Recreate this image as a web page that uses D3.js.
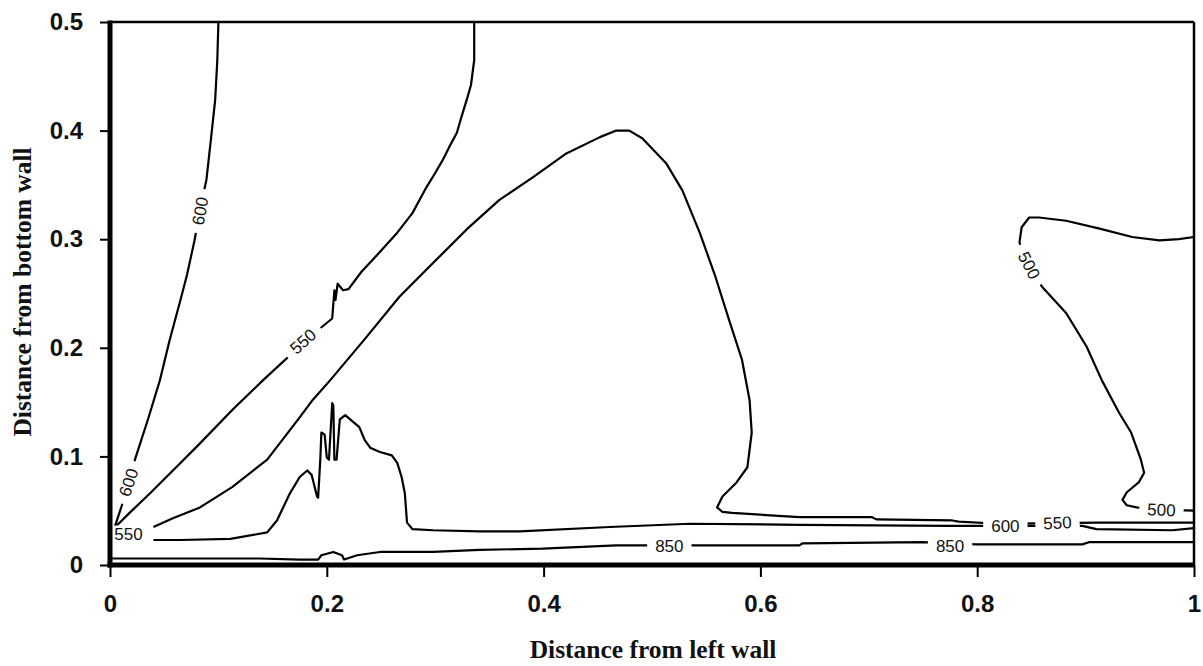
<!DOCTYPE html>
<html>
<head>
<meta charset="utf-8">
<script src="https://cdn.jsdelivr.net/npm/d3@7"></script>
<style>
  html, body { margin: 0; padding: 0; background: #fff; }
  svg { display: block; }
</style>
</head>
<body>
<svg id="chart" width="1203" height="666"></svg>
<script>
// Axis ticks
const xTicks = [0, 0.2, 0.4, 0.6, 0.8, 1];
const xTickLabels = ["0", "0.2", "0.4", "0.6", "0.8", "1"];
const yTicks = [0, 0.1, 0.2, 0.3, 0.4, 0.5];
const yTickLabels = ["0", "0.1", "0.2", "0.3", "0.4", "0.5"];

// Isotherm paths: [distance from left wall, distance from bottom wall]
const iso600Left = [[0.100,0.500],[0.099,0.465],[0.097,0.428],[0.093,0.391],[0.089,0.355],[0.083,0.327],
  [0.078,0.299],[0.071,0.267],[0.065,0.244],[0.055,0.207],[0.046,0.170],[0.035,0.134],[0.023,0.097],
  [0.017,0.076],[0.011,0.055],[0.005,0.037],[0.001,0.031]];

const iso550Upper = [[0.336,0.500],[0.336,0.465],[0.333,0.442],[0.329,0.428],[0.324,0.412],[0.320,0.398],
  [0.313,0.385],[0.307,0.373],[0.300,0.361],[0.292,0.348],[0.279,0.324],[0.265,0.306],[0.246,0.285],
  [0.232,0.270],[0.220,0.254],[0.215,0.253],[0.210,0.259],[0.208,0.244],[0.207,0.253],[0.205,0.227],
  [0.194,0.218],[0.166,0.193],[0.141,0.170],[0.113,0.143],[0.083,0.112],[0.065,0.094],[0.037,0.066],
  [0.018,0.048],[0.007,0.037],[0.001,0.031]];

const iso550Lower = [[0.040,0.035],[0.058,0.043],[0.083,0.053],[0.113,0.072],[0.145,0.097],[0.175,0.136],
  [0.187,0.152],[0.203,0.170],[0.235,0.208],[0.267,0.247],[0.298,0.278],[0.329,0.309],[0.359,0.336],
  [0.390,0.357],[0.421,0.379],[0.452,0.394],[0.467,0.400],[0.479,0.400],[0.491,0.393],[0.513,0.370],
  [0.528,0.345],[0.544,0.306],[0.558,0.267],[0.571,0.226],[0.583,0.189],[0.590,0.152],[0.592,0.122],
  [0.588,0.090],[0.578,0.076],[0.565,0.063],[0.560,0.053],[0.565,0.049],[0.574,0.048],[0.636,0.044],
  [0.703,0.044],[0.707,0.042],[0.777,0.041],[0.783,0.040],[0.820,0.038],[0.910,0.039],[1.000,0.039]];

const iso600Lower = [[0.040,0.023],[0.065,0.023],[0.111,0.024],[0.145,0.030],[0.154,0.041],[0.166,0.066],
  [0.175,0.081],[0.182,0.087],[0.186,0.083],[0.191,0.063],[0.192,0.062],[0.194,0.097],[0.195,0.122],
  [0.198,0.120],[0.200,0.099],[0.202,0.097],[0.205,0.149],[0.206,0.147],[0.207,0.097],[0.209,0.097],
  [0.212,0.134],[0.217,0.138],[0.224,0.132],[0.230,0.127],[0.235,0.115],[0.240,0.108],[0.249,0.104],
  [0.260,0.101],[0.265,0.094],[0.269,0.081],[0.272,0.066],[0.274,0.039],[0.279,0.033],[0.298,0.032],
  [0.341,0.031],[0.378,0.031],[0.461,0.035],[0.535,0.038],[0.636,0.037],[0.774,0.036],[0.897,0.036],
  [0.910,0.033],[0.980,0.032],[1.000,0.034]];

const iso850 = [[0.000,0.006],[0.037,0.006],[0.083,0.006],[0.138,0.006],[0.175,0.005],[0.192,0.005],
  [0.195,0.009],[0.206,0.012],[0.214,0.009],[0.216,0.005],[0.228,0.009],[0.249,0.012],[0.298,0.012],
  [0.341,0.014],[0.399,0.015],[0.467,0.018],[0.495,0.018],[0.537,0.018],[0.636,0.018],[0.639,0.020],
  [0.749,0.021],[0.799,0.019],[0.897,0.019],[0.903,0.021],[1.000,0.021]];

const iso500 = [[1.000,0.302],[0.986,0.300],[0.968,0.299],[0.943,0.302],[0.912,0.310],[0.882,0.317],
  [0.857,0.320],[0.848,0.320],[0.841,0.311],[0.839,0.297],[0.846,0.278],[0.860,0.256],[0.882,0.232],
  [0.901,0.201],[0.915,0.170],[0.931,0.140],[0.942,0.122],[0.951,0.097],[0.954,0.085],[0.949,0.076],
  [0.938,0.067],[0.934,0.060],[0.938,0.055],[0.947,0.053],[0.968,0.051],[1.000,0.050]];

const isotherms = [
  { level: 600, points: iso600Left },
  { level: 550, points: iso550Upper },
  { level: 550, points: iso550Lower },
  { level: 600, points: iso600Lower },
  { level: 850, points: iso850 },
  { level: 500, points: iso500 }
];

// Inline level labels: which level, where it sits, and its reading angle
const isoLabels = [
  { level: 600, x: 0.083, y: 0.326, angle: -80 },
  { level: 600, x: 0.017, y: 0.076, angle: -72 },
  { level: 550, x: 0.178, y: 0.206, angle: -42 },
  { level: 550, x: 0.017, y: 0.029, angle: 0 },
  { level: 600, x: 0.826, y: 0.036, angle: 0 },
  { level: 550, x: 0.874, y: 0.039, angle: -3 },
  { level: 850, x: 0.516, y: 0.018, angle: 0 },
  { level: 850, x: 0.775, y: 0.018, angle: 0 },
  { level: 500, x: 0.848, y: 0.276, angle: 63 },
  { level: 500, x: 0.970, y: 0.051, angle: 2 }
];

const svg = d3.select("#chart");
const x = d3.scaleLinear().domain([0, 1]).range([110, 1194]);
const y = d3.scaleLinear().domain([0, 0.5]).range([565, 22]);

// Isotherm lines
const line = d3.line().x(d => x(d[0])).y(d => y(d[1]));
svg.append("g")
  .selectAll("path")
  .data(isotherms)
  .join("path")
  .attr("d", d => line(d.points))
  .attr("fill", "none")
  .attr("stroke", "#000")
  .attr("stroke-width", 2.2)
  .attr("stroke-linejoin", "round");

// Level labels with a white knock-out behind them
const labelG = svg.append("g")
  .attr("font-family", "'Liberation Sans', Arial, sans-serif")
  .attr("font-size", 17);
isoLabels.forEach(l => {
  const g = labelG.append("g")
    .attr("transform", `translate(${x(l.x)},${y(l.y)}) rotate(${l.angle})`);
  const t = g.append("text")
    .attr("text-anchor", "middle")
    .attr("dy", "0.36em")
    .attr("fill", "#111")
    .text(l.level);
  const w = t.node().getComputedTextLength();
  g.insert("rect", "text")
    .attr("x", -w / 2 - 8)
    .attr("y", -8)
    .attr("width", w + 16)
    .attr("height", 16)
    .attr("fill", "#fff");
});

// Axes
const tickFont = "'Liberation Sans', Arial, sans-serif";
const xAxis = d3.axisBottom(x).tickValues(xTicks)
  .tickFormat((d, i) => xTickLabels[i]).tickSize(12).tickPadding(18);
const yAxis = d3.axisLeft(y).tickValues(yTicks)
  .tickFormat((d, i) => yTickLabels[i]).tickSize(10).tickPadding(17);

const gx = svg.append("g").attr("transform", `translate(0,${y(0)})`).call(xAxis);
const gy = svg.append("g").attr("transform", `translate(${x(0)},0)`).call(yAxis);
[gx, gy].forEach(g => {
  g.select(".domain").remove();
  g.selectAll(".tick line").attr("stroke", "#000").attr("stroke-width", 2);
  g.selectAll(".tick text")
    .attr("fill", "#111")
    .attr("font-family", tickFont)
    .attr("font-size", 24)
    .attr("font-weight", "bold");
});

// Plot frame: heavy left and bottom axes, light top and right borders
svg.append("line").attr("x1", x(0)).attr("x2", x(1)).attr("y1", y(0.5)).attr("y2", y(0.5))
  .attr("stroke", "#000").attr("stroke-width", 2.5);
svg.append("line").attr("x1", x(1)).attr("x2", x(1)).attr("y1", y(0.5)).attr("y2", y(0))
  .attr("stroke", "#000").attr("stroke-width", 2.5);
svg.append("line").attr("x1", x(0)).attr("x2", x(0)).attr("y1", y(0.5) - 1.5).attr("y2", y(0) + 2.5)
  .attr("stroke", "#000").attr("stroke-width", 5);
svg.append("line").attr("x1", x(0) - 2.5).attr("x2", x(1) + 1).attr("y1", y(0)).attr("y2", y(0))
  .attr("stroke", "#000").attr("stroke-width", 5);

// Axis titles
const titleFont = "'Liberation Serif', 'Times New Roman', serif";
svg.append("text")
  .attr("x", 653).attr("y", 658)
  .attr("text-anchor", "middle")
  .attr("font-family", titleFont)
  .attr("font-weight", "bold")
  .attr("font-size", 25.5)
  .attr("fill", "#111")
  .text("Distance from left wall");
svg.append("text")
  .attr("transform", "translate(31,292) rotate(-90)")
  .attr("text-anchor", "middle")
  .attr("font-family", titleFont)
  .attr("font-weight", "bold")
  .attr("font-size", 25.5)
  .attr("fill", "#111")
  .text("Distance from bottom wall");
</script>
</body>
</html>
